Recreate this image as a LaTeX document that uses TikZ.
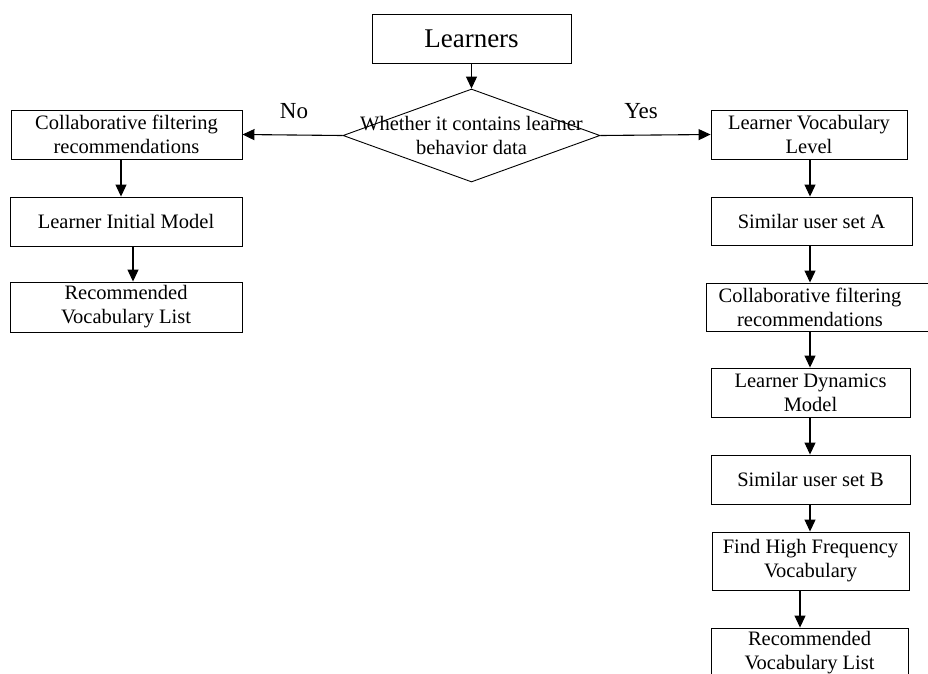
\documentclass[tikz,border=0pt]{standalone}
\usepackage{fontspec}
\setmainfont{Liberation Serif}
\usetikzlibrary{arrows.meta,shapes.geometric}
\tikzset{
  box/.style={draw=black, line width=0.9pt, align=center, inner sep=0pt, font=\fontsize{20.5}{24}\selectfont},
  cond/.style={draw=black, line width=0.9pt, shape=diamond, inner sep=0pt},
  arr/.style={draw=black, line width=1.1pt, -{Triangle[length=12pt,width=11pt]}},
  lab/.style={font=\fontsize{23}{27}\selectfont},
}

\begin{document}
\begin{tikzpicture}[x=1pt, y=-1pt]
  \useasboundingbox (0,0) rectangle (928,673);
  \clip (0,0) rectangle (928,673);

  % top and decision
  \node[box, minimum width=199pt, minimum height=49pt, font=\fontsize{27}{31}\selectfont] (learners) at (471.5,38.5) {Learners};
  \node[cond, minimum width=257pt, minimum height=93pt] (check) at (471.5,135.5) {};
  \node[box, draw=none] (checktext) at (check.center) {Whether it contains learner\\behavior data};

  % left branch
  \node[box, minimum width=231pt, minimum height=49pt] (cfl) at (126.5,134.5) {Collaborative filtering\\recommendations};
  \node[box, minimum width=232pt, minimum height=49pt] (initmodel) at (126,221.5) {Learner Initial Model};
  \node[box, minimum width=232pt, minimum height=50pt] (listl) at (126,307) {Recommended\\Vocabulary List};

  % right branch
  \node[box, minimum width=196pt, minimum height=49pt] (level) at (809,134.5) {Learner Vocabulary\\Level};
  \node[box, minimum width=201pt, minimum height=48pt] (seta) at (811.5,221) {Similar user set A};
  \node[box, minimum width=224pt, minimum height=48pt] (cfr) at (818,307) {\hspace*{-16pt}Collaborative filtering\\\hspace*{-16pt}recommendations};
  \node[box, minimum width=199pt, minimum height=49pt] (dynmodel) at (810.5,392.5) {Learner Dynamics\\Model};
  \node[box, minimum width=199pt, minimum height=49pt] (setb) at (810.5,479.5) {Similar user set B};
  \node[box, minimum width=197pt, minimum height=58pt] (highfreq) at (810.5,561) {Find High Frequency\\Vocabulary};
  \node[box, minimum width=197pt, minimum height=50pt] (listr) at (809.5,653) {Recommended\\Vocabulary List};

  % yes / no labels
  \node[lab] (nolab) at (294,111) {No};
  \node[lab] (yeslab) at (641,111) {Yes};

  % connectors
  \draw[arr] (learners) -- (check.north);
  \draw[arr] (check.west) -- (cfl.east);
  \draw[arr] (check.east) -- (level.west);
  \draw[arr] ([xshift=-5.5pt]cfl.south) -- ([xshift=-5pt]initmodel.north);
  \draw[arr] ([xshift=7pt]initmodel.south) -- ([xshift=7pt]listl.north);
  \draw[arr] ([xshift=1pt]level.south) -- ([xshift=-1.5pt]seta.north);
  \draw[arr] ([xshift=-1.5pt]seta.south) -- ([xshift=-8pt]cfr.north);
  \draw[arr] ([xshift=-8pt]cfr.south) -- ([xshift=-0.5pt]dynmodel.north);
  \draw[arr] ([xshift=-0.5pt]dynmodel.south) -- ([xshift=-0.5pt]setb.north);
  \draw[arr] ([xshift=-0.5pt]setb.south) -- ([xshift=-0.5pt]highfreq.north);
  \draw[arr] ([xshift=-10.5pt]highfreq.south) -- ([xshift=-9.5pt]listr.north);
\end{tikzpicture}
\end{document}
